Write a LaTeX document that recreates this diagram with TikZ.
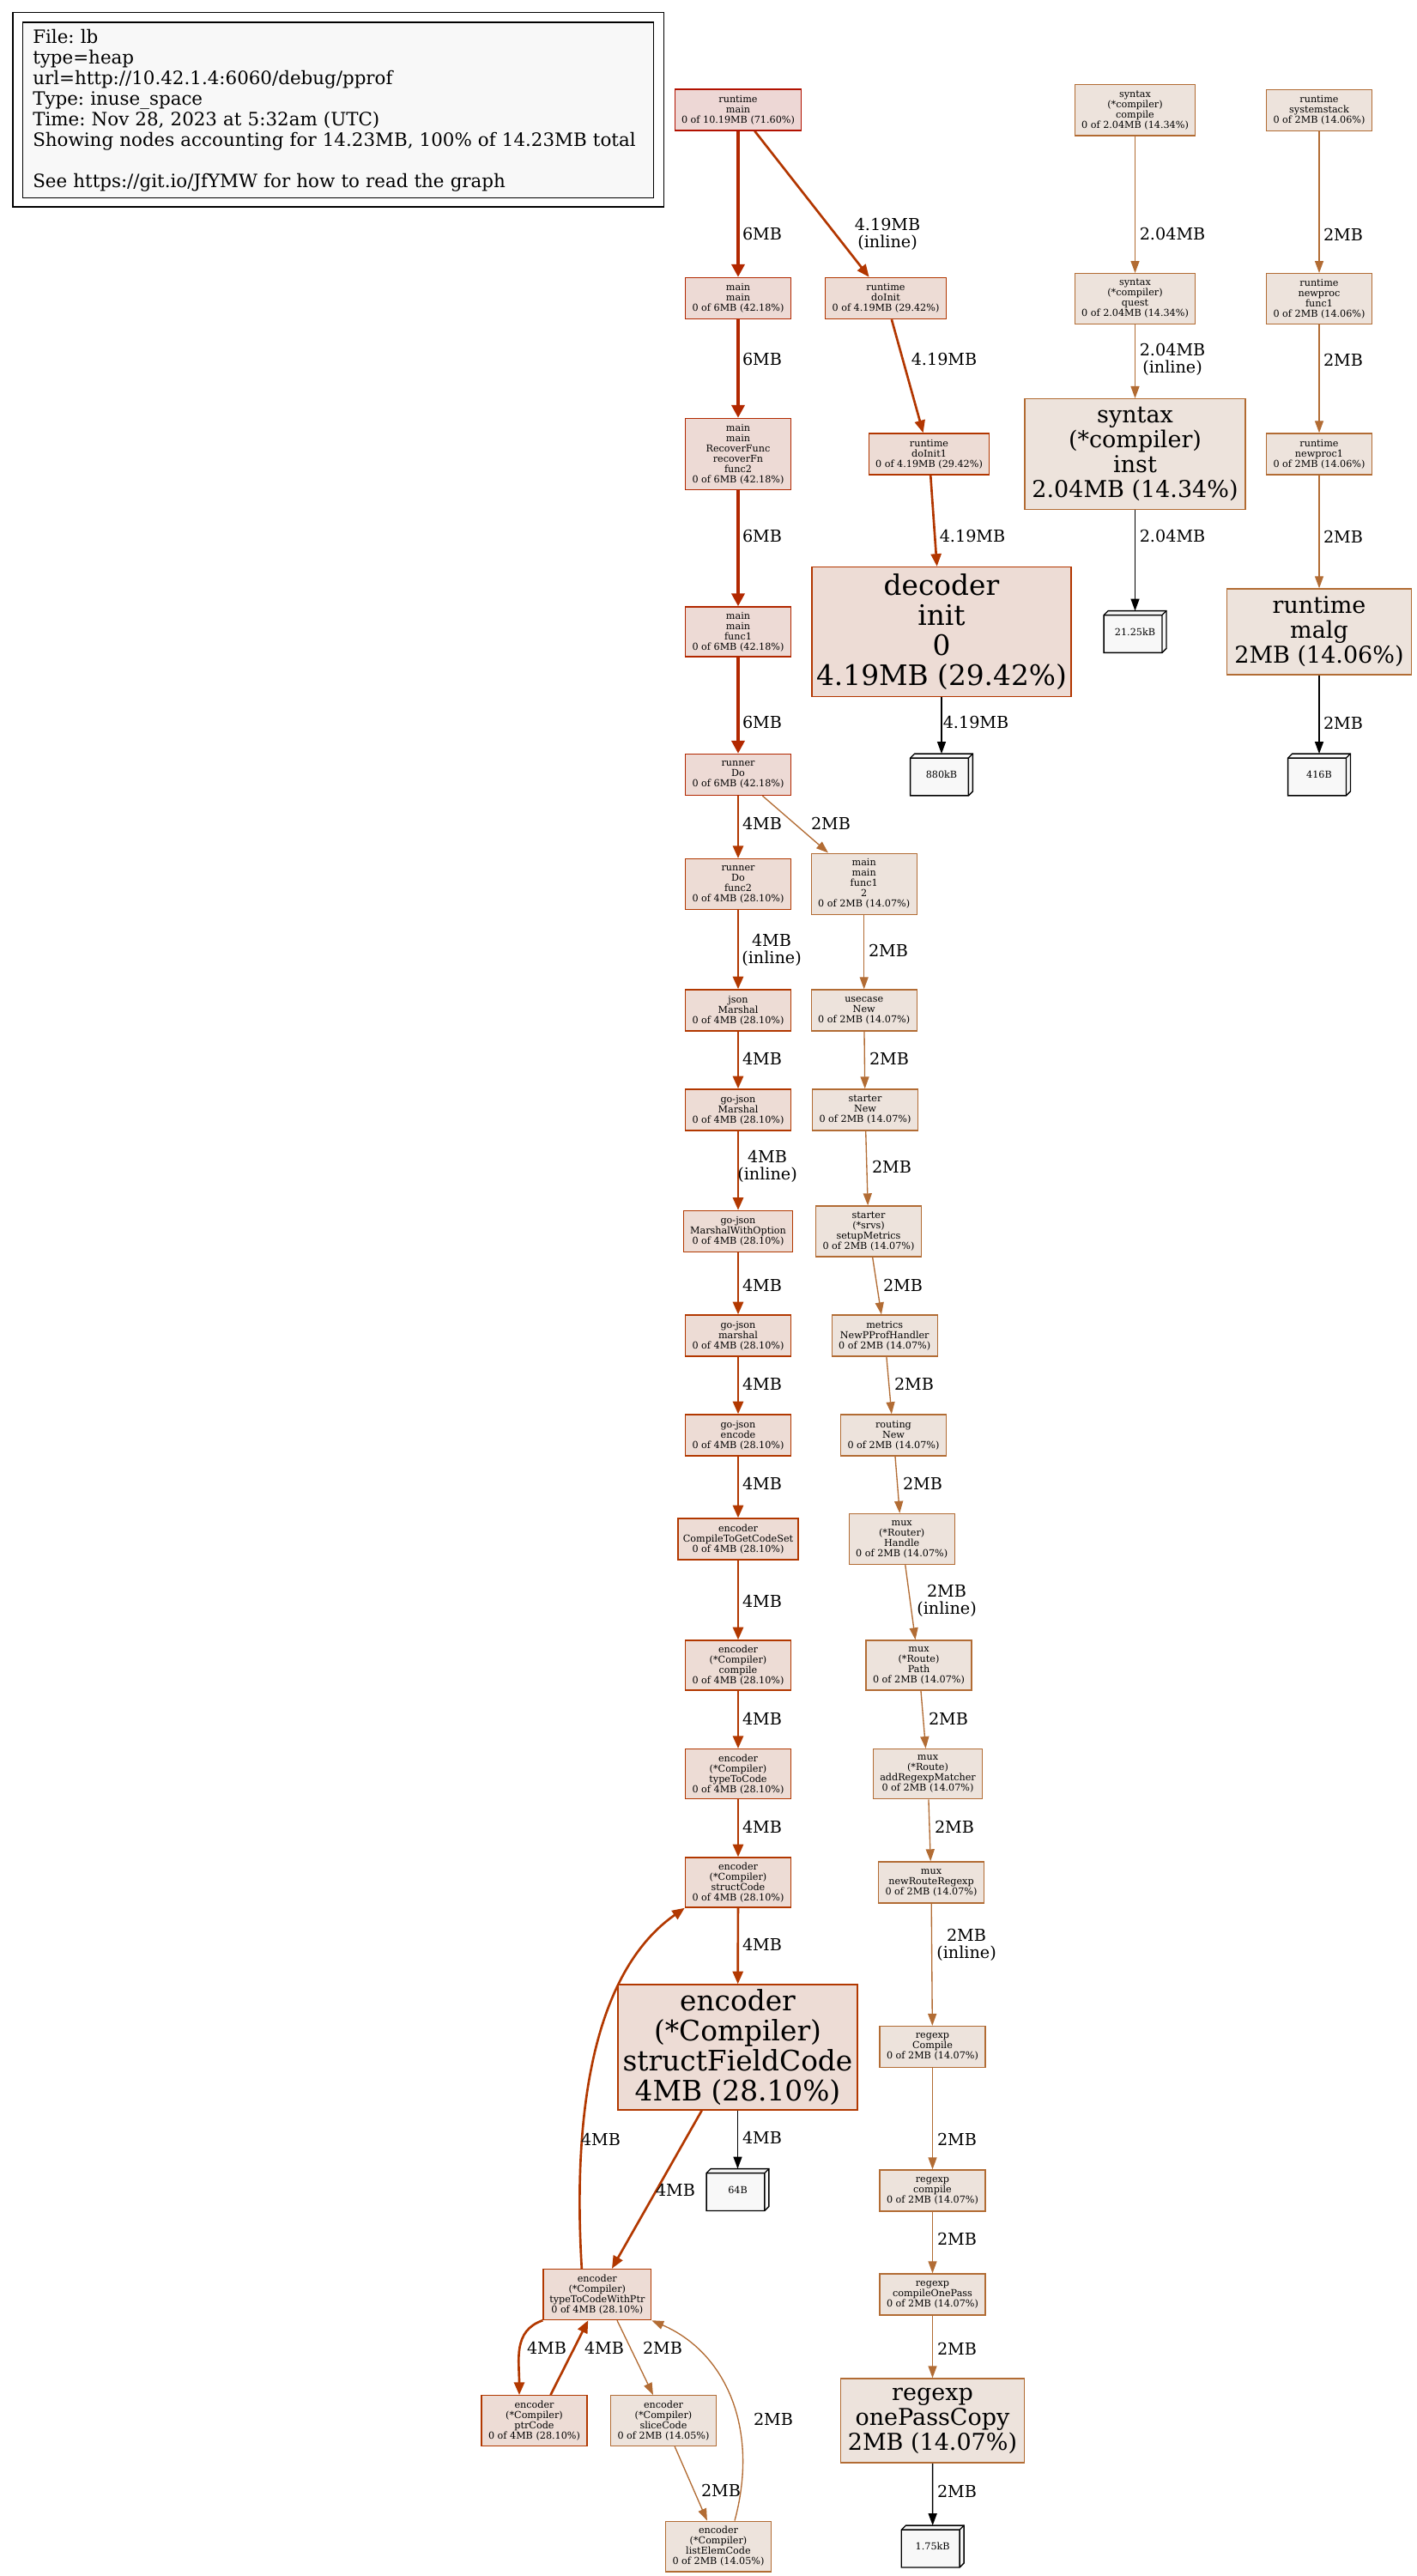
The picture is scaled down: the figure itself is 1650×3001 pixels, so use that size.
\documentclass[tikz,border=0pt]{standalone}
\usepackage{fontspec}
\usepackage{tikz}
\pgfdeclarelayer{background}
\pgfsetlayers{background,main}
\usetikzlibrary{arrows.meta,calc}
\frenchspacing
\newfontfamily\gvfont{DejaVu Serif}
\newcommand{\gvsmall}{\gvfont\fontsize{5.6}{6}\selectfont}
\newcommand{\gvlabel}{\gvfont\fontsize{9.6}{9.7}\selectfont}
\newcommand{\gvbig}{\gvfont\fontsize{16.4}{17.5}\selectfont}
\newcommand{\gvmid}{\gvfont\fontsize{13.5}{14.5}\selectfont}
\newcommand{\gvlegend}{\gvfont\fontsize{10.7}{12}\selectfont}
\definecolor{c72}{HTML}{B21100}
\definecolor{f72}{HTML}{EDD7D5}
\definecolor{c42}{HTML}{B22800}
\definecolor{f42}{HTML}{EDDAD5}
\definecolor{c29}{HTML}{B23600}
\definecolor{c28}{HTML}{B23800}
\definecolor{f28}{HTML}{EDDCD5}
\definecolor{c14}{HTML}{B26B32}
\definecolor{c14b}{HTML}{B26C34}
\definecolor{f14}{HTML}{EDE3DC}
\definecolor{leafbg}{HTML}{F8F8F8}
\tikzset{
  fn/.style={draw,rectangle,inner sep=0pt,align=center,line width=0.7pt,font=\gvsmall},
  wh/.style 2 args={minimum width=#1pt,minimum height=#2pt},
  n72/.style={fn,draw=c72,fill=f72},
  n42/.style={fn,draw=c42,fill=f42},
  n29/.style={fn,draw=c29,fill=f28},
  n28/.style={fn,draw=c28,fill=f28},
  n14/.style={fn,draw=c14,fill=f14},
  n14b/.style={fn,draw=c14b,fill=f14},
  bigfn/.style={font=\gvbig},
  midfn/.style={font=\gvmid},
  leaf/.style={inner sep=0pt,minimum width=36pt,minimum height=24pt,font=\gvsmall},
  leafline/.style={draw=black,line width=0.67pt},
  legend/.style={draw=black,fill=leafbg,line width=0.67pt,inner xsep=5.75pt,inner ysep=0pt,
    text width=356pt,align=left,minimum height=102.35pt,font=\gvlegend},
  lbl/.style={inner sep=0pt,align=center,font=\gvlabel},
  w6/.style={draw=c42,line width=2pt,-{Triangle[length=7.5pt,width=7.5pt]}},
  w419/.style={draw=c29,line width=1.33pt,-{Triangle[length=7.3pt,width=6pt]}},
  w4/.style={draw=c28,line width=1.33pt,-{Triangle[length=7.3pt,width=6pt]}},
  w204/.style={draw=c14,line width=0.67pt,-{Triangle[length=7pt,width=5pt]}},
  w2/.style={draw=c14b,line width=0.67pt,-{Triangle[length=7pt,width=5pt]}},
  wk/.style={draw=black,line width=0.67pt,-{Triangle[length=7pt,width=5pt]}}
}
\newcommand{\Func}[4]% pos, name, style, text
{\node[#3] (#2) at (#1) {#4};}
\newcommand{\Leaf}[3]% pos, name, text
{\node[leaf] (#2) at (#1) {#3};
  \begin{pgfonlayer}{background}
    \filldraw[leafline,fill=leafbg] ($(#2.north west)+(0,5)$) -- ++(5,-5) -- (#2.north east)
      -- ($(#2.south east)+(0,-5)$) -- ++(-5,5) -- (#2.south west) -- cycle;
    \draw[leafline] ($(#2.north west)+(0,5)$) -- ($(#2.north east)+(-5,5)$) -- ++(5,-5)
      ($(#2.north east)+(-5,5)$) -- ($(#2.south east)+(-5,0)$);
  \end{pgfonlayer}
}
\newcommand{\Arrow}[5]% from, to, style, label pos, label
{ \begin{pgfonlayer}{background}
    \draw[#3] (#1) -- (#2) node[lbl] at (#4) {#5};
  \end{pgfonlayer}}

\begin{document}
\begin{tikzpicture}[x=0.5pt,y=-0.5pt]
  \useasboundingbox (0,0) rectangle (1650,3001);
  % legend
  \node[legend] (legend) at (394.25,128.35) {File: lb\\type=heap\\url=http://10.42.1.4:6060/debug/pprof\\Type: inuse\_space\\Time: Nov 28, 2023 at 5:32am (UTC)\\Showing nodes accounting for 14.23MB, 100\% of 14.23MB total\\[12pt]See https://git.io/JfYMW for how to read the graph};
  \draw[leafline] ($(legend.north west)+(-11,-11)$) rectangle ($(legend.south east)+(11,9.5)$);
  % left column
  \Func{860,128}{rtmain}{n72,wh={73.5}{24}}{runtime\\main\\0 of 10.19MB (71.60\%)}
  \Func{860,347.5}{mainmain}{n42,wh={61.5}{24}}{main\\main\\0 of 6MB (42.18\%)}
  \Func{860,529}{recover}{n42,wh={61.5}{41.5}}{main\\main\\RecoverFunc\\recoverFn\\func2\\0 of 6MB (42.18\%)}
  \Func{860,736}{func1}{n42,wh={61.5}{29}}{main\\main\\func1\\0 of 6MB (42.18\%)}
  \Func{860,902.5}{runnerdo}{n42,wh={61.5}{24}}{runner\\Do\\0 of 6MB (42.18\%)}
  \Func{860,1030}{dofunc2}{n28,wh={61.5}{29.3}}{runner\\Do\\func2\\0 of 4MB (28.10\%)}
  \Func{860,1177}{jsonmarshal}{n28,wh={61.5}{24}}{json\\Marshal\\0 of 4MB (28.10\%)}
  \Func{860,1293}{gojsonmarshal}{n28,wh={61.5}{24}}{go-json\\Marshal\\0 of 4MB (28.10\%)}
  \Func{860,1434.5}{marshalopt}{n28,wh={63.5}{24}}{go-json\\MarshalWithOption\\0 of 4MB (28.10\%)}
  \Func{860,1556}{gojsonlower}{n28,wh={61.5}{24}}{go-json\\marshal\\0 of 4MB (28.10\%)}
  \Func{860,1672}{encode}{n28,wh={61.5}{24}}{go-json\\encode\\0 of 4MB (28.10\%)}
  \Func{860,1793}{codeset}{n28,wh={70}{24}}{encoder\\CompileToGetCodeSet\\0 of 4MB (28.10\%)}
  \Func{860,1940}{compile}{n28,wh={61.5}{29}}{encoder\\(*Compiler)\\compile\\0 of 4MB (28.10\%)}
  \Func{860,2066.7}{typetocode}{n28,wh={61.5}{29}}{encoder\\(*Compiler)\\typeToCode\\0 of 4MB (28.10\%)}
  \Func{860,2193}{structcode}{n28,wh={61.5}{29}}{encoder\\(*Compiler)\\structCode\\0 of 4MB (28.10\%)}
  \Func{859.5,2385}{fieldcode}{n28,bigfn,wh={139.5}{73}}{encoder\\(*Compiler)\\structFieldCode\\4MB (28.10\%)}
  \Leaf{859.5,2551}{leaf64}{64B}
  \Func{695.8,2673}{withptr}{n28,wh={62.75}{29.5}}{encoder\\(*Compiler)\\typeToCodeWithPtr\\0 of 4MB (28.10\%)}
  \Func{622.5,2820}{ptrcode}{n28,wh={61.5}{29.3}}{encoder\\(*Compiler)\\ptrCode\\0 of 4MB (28.10\%)}
  \Func{773,2820}{slicecode}{n14b,wh={61.5}{29.3}}{encoder\\(*Compiler)\\sliceCode\\0 of 2MB (14.05\%)}
  \Func{837,2966.5}{listelem}{n14b,wh={61.5}{29.3}}{encoder\\(*Compiler)\\listElemCode\\0 of 2MB (14.05\%)}
  % middle column
  \Func{1032,347.5}{doinit}{n29,wh={70.5}{24}}{runtime\\doInit\\0 of 4.19MB (29.42\%)}
  \Func{1082.5,529}{doinit1}{n29,wh={70}{24}}{runtime\\doInit1\\0 of 4.19MB (29.42\%)}
  \Func{1097,736}{decoder}{n29,bigfn,wh={151}{75.5}}{decoder\\init\\0\\4.19MB (29.42\%)}
  \Leaf{1097,902.5}{leaf880}{880kB}
  \Func{1006.7,1029.7}{mainfunc12}{n14b,wh={61.5}{35.5}}{main\\main\\func1\\2\\0 of 2MB (14.07\%)}
  \Func{1006.7,1177}{usecase}{n14b,wh={61.5}{24}}{usecase\\New\\0 of 2MB (14.07\%)}
  \Func{1008,1293}{starter}{n14b,wh={61.5}{24}}{starter\\New\\0 of 2MB (14.07\%)}
  \Func{1012,1434.5}{metricsetup}{n14b,wh={61.5}{29.5}}{starter\\(*srvs)\\setupMetrics\\0 of 2MB (14.07\%)}
  \Func{1030.7,1556}{pprofhandler}{n14b,wh={61.5}{24}}{metrics\\NewPProfHandler\\0 of 2MB (14.07\%)}
  \Func{1041,1672}{routing}{n14b,wh={61.5}{24}}{routing\\New\\0 of 2MB (14.07\%)}
  \Func{1050.7,1793}{handle}{n14b,wh={61.5}{29.5}}{mux\\(*Router)\\Handle\\0 of 2MB (14.07\%)}
  \Func{1070.5,1940}{path}{n14b,wh={61.5}{29}}{mux\\(*Route)\\Path\\0 of 2MB (14.07\%)}
  \Func{1081,2066.7}{matcher}{n14b,wh={63.5}{29}}{mux\\(*Route)\\addRegexpMatcher\\0 of 2MB (14.07\%)}
  \Func{1085,2193}{routeregexp}{n14b,wh={61.5}{24}}{mux\\newRouteRegexp\\0 of 2MB (14.07\%)}
  \Func{1086.5,2384.6}{recompile}{n14b,wh={61.5}{24}}{regexp\\Compile\\0 of 2MB (14.07\%)}
  \Func{1086.5,2552}{recompilel}{n14b,wh={61.5}{24}}{regexp\\compile\\0 of 2MB (14.07\%)}
  \Func{1086.5,2673}{onepass}{n14b,wh={61.5}{24}}{regexp\\compileOnePass\\0 of 2MB (14.07\%)}
  \Func{1086.5,2820}{onepasscopy}{n14b,midfn,wh={107}{49}}{regexp\\onePassCopy\\2MB (14.07\%)}
  \Leaf{1086.7,2966.5}{leaf175}{1.75kB}
  % syntax column
  \Func{1322.5,128.4}{sxcompile}{n14,wh={70}{29.7}}{syntax\\(*compiler)\\compile\\0 of 2.04MB (14.34\%)}
  \Func{1322.5,348}{sxquest}{n14,wh={70}{29.25}}{syntax\\(*compiler)\\quest\\0 of 2.04MB (14.34\%)}
  \Func{1322.5,529}{sxinst}{n14,midfn,wh={128.5}{64.3}}{syntax\\(*compiler)\\inst\\2.04MB (14.34\%)}
  \Leaf{1322.5,736}{leaf2125}{21.25kB}
  % runtime column
  \Func{1537,128.6}{systemstack}{n14b,wh={61.5}{24}}{runtime\\systemstack\\0 of 2MB (14.06\%)}
  \Func{1537,348}{newprocfunc}{n14b,wh={61.5}{29.25}}{runtime\\newproc\\func1\\0 of 2MB (14.06\%)}
  \Func{1537,529}{newproc1}{n14b,wh={61.5}{24}}{runtime\\newproc1\\0 of 2MB (14.06\%)}
  \Func{1537,736}{malg}{n14b,midfn,wh={107.5}{50}}{runtime\\malg\\2MB (14.06\%)}
  \Leaf{1537,902.5}{leaf416}{416B}
  % edges
  \Arrow{rtmain}{mainmain}{w6}{888,273}{6MB}
  \Arrow{rtmain}{doinit}{w419}{1034,273}{4.19MB\\(inline)}
  \Arrow{mainmain}{recover}{w6}{888,419}{6MB}
  \Arrow{doinit}{doinit1}{w419}{1100,419}{4.19MB}
  \Arrow{recover}{func1}{w6}{888,625}{6MB}
  \Arrow{doinit1}{decoder}{w419}{1133,625}{4.19MB}
  \Arrow{func1}{runnerdo}{w6}{888,842}{6MB}
  \Arrow{decoder}{leaf880}{wk}{1137,842}{4.19MB}
  \Arrow{sxcompile}{sxquest}{w204}{1366,273}{2.04MB}
  \Arrow{sxquest}{sxinst}{w204}{1366,419}{2.04MB\\(inline)}
  \Arrow{sxinst}{leaf2125}{wk}{1366,625}{2.04MB}
  \Arrow{systemstack}{newprocfunc}{w2}{1565,273}{2MB}
  \Arrow{newprocfunc}{newproc1}{w2}{1565,419}{2MB}
  \Arrow{newproc1}{malg}{w2}{1565,625}{2MB}
  \Arrow{malg}{leaf416}{wk}{1565,842}{2MB}
  \Arrow{runnerdo}{dofunc2}{w4}{888,959}{4MB}
  \Arrow{runnerdo}{mainfunc12}{w2}{968,959}{2MB}
  \Arrow{dofunc2}{jsonmarshal}{w4}{899,1107}{4MB\\(inline)}
  \Arrow{mainfunc12}{usecase}{w2}{1035,1107}{2MB}
  \Arrow{jsonmarshal}{gojsonmarshal}{w4}{888,1233}{4MB}
  \Arrow{usecase}{starter}{w2}{1036,1233}{2MB}
  \Arrow{gojsonmarshal}{marshalopt}{w4}{894,1359}{4MB\\(inline)}
  \Arrow{starter}{metricsetup}{w2}{1039,1359}{2MB}
  \Arrow{marshalopt}{gojsonlower}{w4}{888,1497}{4MB}
  \Arrow{metricsetup}{pprofhandler}{w2}{1052,1497}{2MB}
  \Arrow{gojsonlower}{encode}{w4}{888,1612}{4MB}
  \Arrow{pprofhandler}{routing}{w2}{1065,1612}{2MB}
  \Arrow{encode}{codeset}{w4}{888,1728}{4MB}
  \Arrow{routing}{handle}{w2}{1075,1728}{2MB}
  \Arrow{codeset}{compile}{w4}{888,1865}{4MB}
  \Arrow{handle}{path}{w2}{1103,1865}{2MB\\(inline)}
  \Arrow{compile}{typetocode}{w4}{888,2002}{4MB}
  \Arrow{path}{matcher}{w2}{1105,2002}{2MB}
  \Arrow{typetocode}{structcode}{w4}{888,2128}{4MB}
  \Arrow{matcher}{routeregexp}{w2}{1112,2128}{2MB}
  \Arrow{structcode}{fieldcode}{w4}{888,2265}{4MB}
  \Arrow{routeregexp}{recompile}{w2}{1126,2266}{2MB\\(inline)}
  \Arrow{fieldcode}{leaf64}{wk}{888,2490}{4MB}
  \Arrow{recompile}{recompilel}{w2}{1115,2492}{2MB}
  \Arrow{fieldcode}{withptr}{w4}{787,2551}{4MB}
  \Arrow{recompilel}{onepass}{w2}{1115,2608}{2MB}
  \Arrow{onepass}{onepasscopy}{w2}{1115,2736}{2MB}
  \Arrow{onepasscopy}{leaf175}{wk}{1115,2902}{2MB}
  \Arrow{slicecode}{listelem}{w2}{840,2901}{2MB}
  \Arrow{[xshift=9.5pt]ptrcode.north}{[xshift=-5.25pt]withptr.south}{w4}{704,2735}{4MB}
  \Arrow{[xshift=11.6pt]withptr.south}{[xshift=-6pt]slicecode.north}{w2}{772,2735}{2MB}
  % recursive edges
  \begin{pgfonlayer}{background}
    \draw[w4] ([xshift=-9pt]withptr.north) .. controls +(-12,-200) and +(-100,70) .. (structcode.south west) node[lbl] at (700,2492) {4MB};
    \draw[w4] (withptr.south west) .. controls +(-35,12) and +(0,-40) .. ([xshift=-8.75pt]ptrcode.north) node[lbl] at (637,2735) {4MB};
    \draw[w2] ([xshift=9.5pt]listelem.north) .. controls +(29,-107) and +(86.5,37.3) .. (withptr.south east) node[lbl] at (901,2818) {2MB};
  \end{pgfonlayer}
\end{tikzpicture}
\end{document}
